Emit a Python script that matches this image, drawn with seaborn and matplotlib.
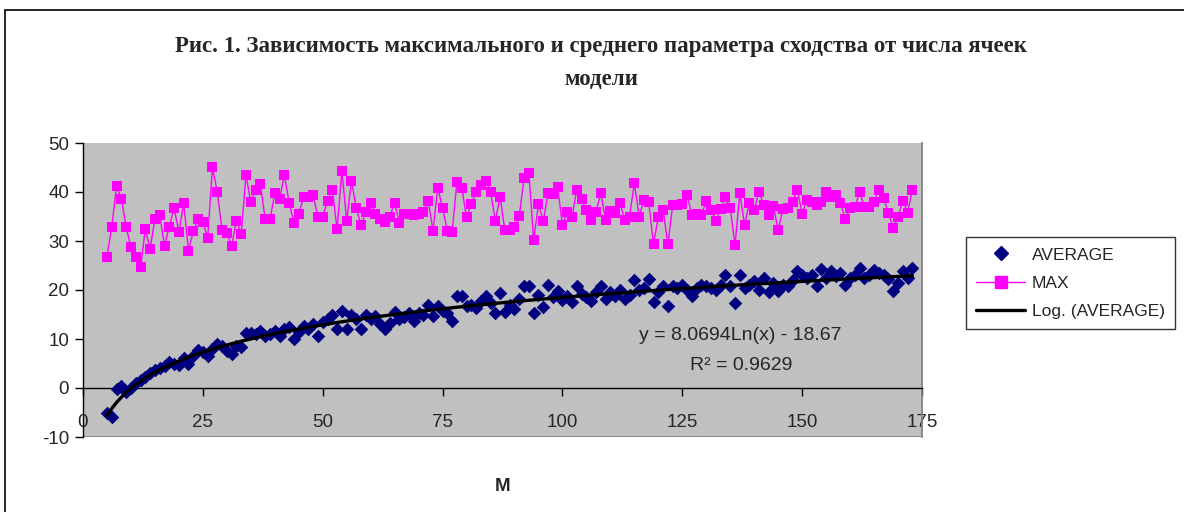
import numpy as np
import pandas as pd
import seaborn as sns
import matplotlib.pyplot as plt
from matplotlib.lines import Line2D
from matplotlib.patches import Rectangle

# number of model cells (x axis)
m_cells = list(range(5, 174))

# maximum similarity parameter, one value per M
max_sim = [
    26.8, 32.9, 41.2, 38.6, 32.9, 28.7, 26.8, 24.6, 32.4, 28.4,   # 5-14
    34.5, 35.4, 29.0, 32.9, 36.7, 31.8, 37.8, 28.0, 32.0, 34.4,   # 15-24
    33.9, 30.6, 45.0, 40.1, 32.2, 31.7, 29.0, 34.1, 31.4, 43.5,   # 25-34
    37.9, 40.5, 41.6, 34.4, 34.4, 39.7, 38.5, 43.5, 37.8, 33.7,   # 35-44
    35.5, 38.9, 39.0, 39.4, 34.8, 35.0, 38.2, 40.5, 32.4, 44.3,   # 45-54
    34.1, 42.3, 36.7, 33.3, 36.0, 37.8, 35.6, 34.5, 33.9, 35.0,   # 55-64
    37.8, 33.7, 35.6, 35.6, 35.4, 35.5, 36.0, 38.2, 32.1, 40.9,   # 65-74
    36.7, 32.1, 31.9, 42.1, 40.9, 34.8, 37.6, 40.1, 41.4, 42.3,   # 75-84
    40.1, 34.1, 39.0, 32.2, 32.2, 32.9, 35.1, 42.8, 43.9, 30.2,   # 85-94
    37.5, 34.1, 39.7, 39.5, 41.0, 33.3, 36.0, 35.0, 40.5, 38.5,   # 95-104
    36.3, 34.3, 36.0, 39.7, 34.3, 36.1, 35.7, 37.8, 34.3, 35.0,   # 105-114
    41.8, 35.0, 38.4, 38.0, 29.3, 35.0, 36.3, 29.3, 37.3, 37.3,   # 115-124
    37.5, 39.4, 35.3, 35.5, 35.3, 38.2, 36.3, 34.1, 36.5, 39.0,   # 125-134
    36.7, 29.2, 39.7, 33.3, 37.7, 36.3, 40.1, 37.3, 35.3, 37.1,   # 135-144
    32.2, 36.5, 36.7, 38.0, 40.5, 35.6, 38.4, 38.0, 37.3, 38.0,   # 145-154
    40.1, 39.0, 39.4, 37.7, 34.4, 36.7, 37.0, 39.9, 37.0, 36.9,   # 155-164
    38.0, 40.5, 38.7, 35.8, 32.6, 35.0, 38.2, 35.8, 40.5,         # 165-173
]

# average similarity parameter, one value per M
avg_sim = [
    -5.0, -6.0, -0.3, 0.4, -0.8, 0.0, 1.0, 1.6, 2.3, 3.1,         # 5-14
    3.6, 4.0, 4.5, 5.4, 4.8, 4.6, 6.1, 5.0, 6.5, 7.8,             # 15-24
    7.3, 6.5, 8.0, 9.0, 8.5, 7.6, 6.9, 8.6, 8.3, 11.3,            # 25-34
    11.3, 11.0, 11.6, 10.6, 11.0, 11.6, 10.6, 12.1, 12.4, 10.1,   # 35-44
    11.5, 12.7, 12.0, 13.0, 10.6, 13.5, 14.0, 14.8, 12.0, 15.7,   # 45-54
    12.0, 15.0, 14.0, 12.0, 15.0, 14.0, 14.7, 13.0, 12.0, 13.3,   # 55-64
    15.5, 14.0, 14.5, 15.4, 13.7, 15.4, 14.8, 16.9, 14.7, 16.7,   # 65-74
    15.8, 15.4, 13.7, 18.8, 18.8, 16.8, 17.0, 16.3, 17.7, 18.8,   # 75-84
    17.3, 15.4, 19.3, 15.5, 17.0, 16.1, 18.2, 20.8, 20.8, 15.4,   # 85-94
    19.0, 16.5, 21.1, 18.5, 19.8, 18.0, 18.8, 17.5, 20.8, 19.2,   # 95-104
    18.5, 17.8, 19.5, 20.8, 18.1, 19.5, 18.8, 20.1, 18.2, 19.0,   # 105-114
    22.0, 20.1, 20.5, 22.2, 17.5, 19.5, 20.8, 16.7, 20.8, 20.5,   # 115-124
    21.1, 20.0, 18.8, 20.5, 21.1, 20.8, 20.5, 20.1, 21.0, 23.0,   # 125-134
    20.8, 17.3, 23.0, 20.5, 21.0, 21.8, 20.1, 22.5, 19.5, 21.4,   # 135-144
    19.8, 21.0, 20.8, 22.0, 23.8, 23.1, 22.5, 23.1, 20.8, 24.3,   # 145-154
    22.5, 23.8, 22.8, 23.5, 21.1, 22.5, 23.0, 24.5, 22.5, 23.0,   # 155-164
    24.1, 23.5, 23.0, 22.2, 19.8, 21.4, 23.8, 22.5, 24.5,         # 165-173
]

# logarithmic trend shown on the chart
fit_a = 8.0694
fit_b = -18.67
fit_r2 = 0.9629

sns.set_theme(style="white")
plt.rcParams["font.family"] = ["Liberation Sans", "DejaVu Sans"]
plt.rcParams["axes.unicode_minus"] = False

data = pd.DataFrame({"M": m_cells, "MAX": max_sim, "AVERAGE": avg_sim})
x_fit = np.linspace(min(m_cells), max(m_cells), 300)
trend = pd.DataFrame({"M": x_fit, "fit": fit_a * np.log(x_fit) + fit_b})

W, H = 1184, 512
fig = plt.figure(figsize=(W / 100, H / 100), dpi=100)
ax = fig.add_axes([83 / W, (H - 437) / H, 839 / W, 294 / H])
ax.set_facecolor("#c0c0c0")

sns.lineplot(data=data, x="M", y="MAX", ax=ax, color="#ff00ff", linewidth=1,
             marker="s", markersize=7, markeredgewidth=0, legend=False)
sns.scatterplot(data=data, x="M", y="AVERAGE", ax=ax, color="#000080",
                marker="D", s=48, linewidth=0, legend=False, zorder=3)
sns.lineplot(data=trend, x="M", y="fit", ax=ax, color="black", linewidth=2.4,
             legend=False, zorder=4)

ax.set_xlim(0, 175)
ax.set_ylim(-10, 50)
ax.set_xticks(range(0, 176, 25))
ax.set_yticks(range(-10, 51, 10))
ax.spines["bottom"].set_position(("data", 0))
ax.spines["top"].set_visible(False)
ax.spines["right"].set_color("#808080")
for s in ["left", "bottom"]:
    ax.spines[s].set_color("black")
    ax.spines[s].set_linewidth(1)
ax.axhline(-10, color="#808080", linewidth=1.2, zorder=1)
ax.tick_params(axis="y", direction="out", length=6, width=1, color="black",
               labelsize=13.5, pad=4, left=True)
ax.tick_params(axis="x", direction="out", length=6, width=1, color="black",
               labelsize=13.5, pad=13, bottom=True)
ax.set_ylabel("")
ax.set_xlabel("M", fontsize=13.5, fontweight="bold")
ax.xaxis.set_label_coords(0.5, -0.14)

ax.text((740 - 83) / 839, (437 - 336) / 294, "y = 8.0694Ln(x) - 18.67",
        transform=ax.transAxes, ha="center", va="center", fontsize=14)
ax.text((741 - 83) / 839, (437 - 365) / 294, f"R² = {fit_r2}",
        transform=ax.transAxes, ha="center", va="center", fontsize=14)

fig.text(601 / W, 1 - 36 / H,
         "Рис. 1. Зависимость максимального и среднего параметра сходства от числа ячеек\nмодели",
         ha="center", va="top", fontsize=16.5, fontweight="bold",
         family=["Liberation Serif", "DejaVu Serif"], linespacing=1.75)

handles = [
    Line2D([], [], linestyle="none", marker="D", color="#000080", markersize=7),
    Line2D([], [], color="#ff00ff", linewidth=1, marker="s", markersize=8),
    Line2D([], [], color="black", linewidth=2.4),
]
leg = ax.legend(handles, ["AVERAGE", "MAX", "Log. (AVERAGE)"],
                loc="upper left", bbox_to_anchor=(966 / W, 1 - 237 / H),
                bbox_transform=fig.transFigure, frameon=True, fancybox=False,
                fontsize=12.5, handlelength=2.8, handletextpad=0.4,
                labelspacing=0.75, borderpad=0.6, borderaxespad=0)
leg.get_frame().set_edgecolor("black")
leg.get_frame().set_linewidth(1)

# chart area border
fig.add_artist(Rectangle((5 / W, -0.1), 1.2, 1.1 - 10 / H, fill=False,
                         edgecolor="black", linewidth=1.2,
                         transform=fig.transFigure))

fig.savefig("out.png", dpi=100)
